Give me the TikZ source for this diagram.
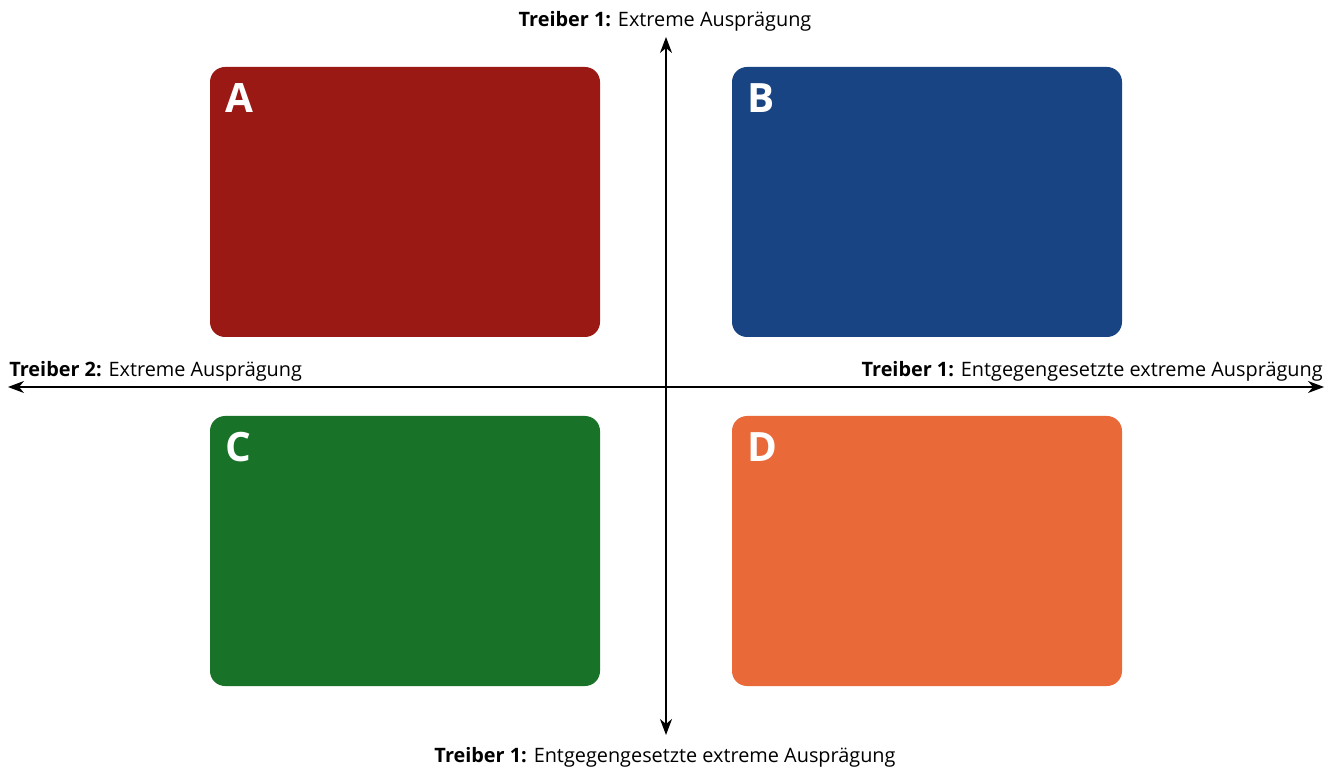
\documentclass[tikz,border=0pt]{standalone}
\usepackage{fontspec}
\setmainfont{Open Sans}
\usepackage{xcolor}
\usetikzlibrary{positioning, arrows.meta}

\definecolor{szenA}{RGB}{155,25,21}
\definecolor{szenB}{RGB}{24,68,131}
\definecolor{szenC}{RGB}{24,115,40}
\definecolor{szenD}{RGB}{234,105,57}

\begin{document}
\begin{tikzpicture}[
    quadrant/.style={rectangle, rounded corners=0.3cm, minimum width=7.8cm, minimum height=5.4cm, inner sep=0pt},
    letter/.style={anchor=base west, inner sep=0pt, text=white, font=\fontsize{23}{26}\selectfont\bfseries},
    axis/.style={line width=0.7pt, -{Stealth[length=3.2mm, width=2.4mm, inset=1mm]}},
    axislabel/.style={inner sep=0pt, font=\fontsize{11.3}{13}\selectfont}
]
    \useasboundingbox (0,0) rectangle (26.76,15.38);

    % the four scenario fields
    \node (boxA) [quadrant, fill=szenA] at (8.1,11.34) {};
    \node (boxB) [quadrant, fill=szenB] at (18.54,11.34) {};
    \node (boxC) [quadrant, fill=szenC] at (8.1,4.36) {};
    \node (boxD) [quadrant, fill=szenD] at (18.54,4.36) {};

    \node (letA) [letter] at ([shift={(0.3,-0.92)}]boxA.north west) {A};
    \node (letB) [letter] at ([shift={(0.3,-0.92)}]boxB.north west) {B};
    \node (letC) [letter] at ([shift={(0.3,-0.92)}]boxC.north west) {C};
    \node (letD) [letter] at ([shift={(0.3,-0.92)}]boxD.north west) {D};

    % axes
    \coordinate (mid) at (13.32,7.64);
    \coordinate (top) at (13.32,14.64);
    \coordinate (bottom) at (13.32,0.68);
    \coordinate (left) at (0.16,7.64);
    \coordinate (right) at (26.48,7.64);

    \draw [axis] (mid) -- (top);
    \draw [axis] (mid) -- (bottom);
    \draw [axis] (mid) -- (left);
    \draw [axis] (mid) -- (right);

    \node (lbltop) [axislabel, anchor=base] at (13.3,14.84) {\textbf{Treiber 1:} Extreme Ausprägung};
    \node (lblbottom) [axislabel, anchor=base] at (13.3,0.14) {\textbf{Treiber 1:} Entgegengesetzte extreme Ausprägung};
    \node (lblleft) [axislabel, anchor=base west] at (0.18,7.84) {\textbf{Treiber 2:} Extreme Ausprägung};
    \node (lblright) [axislabel, anchor=base east] at (26.46,7.84) {\textbf{Treiber 1:} Entgegengesetzte extreme Ausprägung};
\end{tikzpicture}
\end{document}
